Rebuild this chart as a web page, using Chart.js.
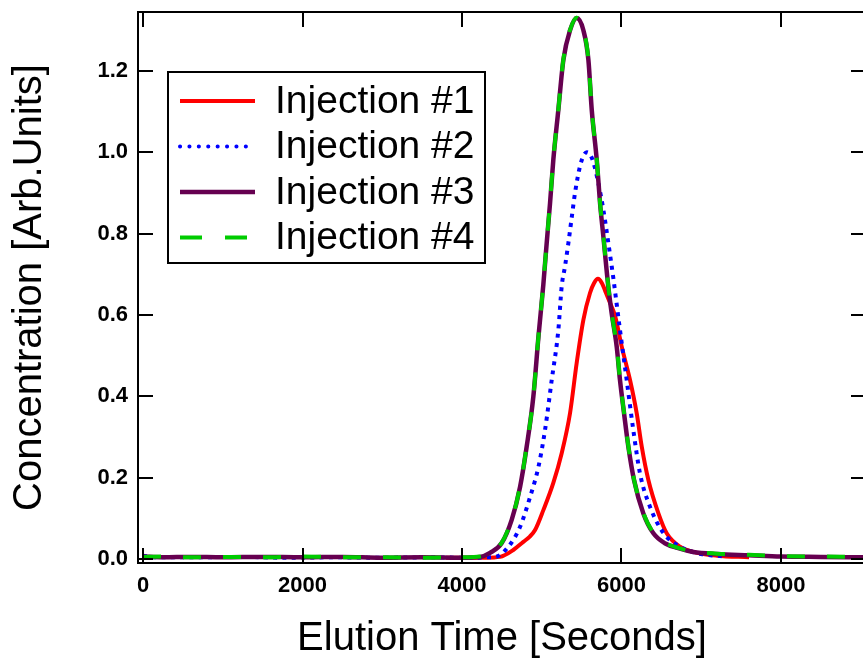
<!DOCTYPE html>
<html>
<head>
<meta charset="utf-8">
<script src="https://cdn.jsdelivr.net/npm/chart.js@4.4.1/dist/chart.umd.min.js"></script>
<style>
  html, body { margin: 0; padding: 0; background: #fff; overflow: hidden; }
  #wrap { width: 866px; height: 661px; }
</style>
</head>
<body>
<div id="wrap"><canvas id="chart"></canvas></div>
<script>
// values (time in seconds, concentration in arb. units)
const time1 = [3800, 4000, 4300, 4477, 4643, 4769, 4850, 4916, 5020, 5145, 5250, 5355, 5438, 5522, 5605, 5655, 5705, 5755, 5810, 5860, 5919, 6003, 6107, 6191, 6254, 6337, 6463, 6567, 6734, 6950, 7200, 7600];
const conc1 = [0.003, 0.003, 0.003, 0.005, 0.022, 0.042, 0.055, 0.071, 0.12, 0.187, 0.26, 0.359, 0.482, 0.588, 0.654, 0.678, 0.689, 0.678, 0.652, 0.628, 0.598, 0.522, 0.44, 0.358, 0.276, 0.194, 0.112, 0.063, 0.03, 0.015, 0.008, 0.004];

const time2 = [0, 150, 600, 1200, 1800, 2400, 3000, 3600, 4000, 4414, 4581, 4728, 4853, 4958, 5041, 5125, 5208, 5250, 5292, 5334, 5376, 5417, 5480, 5525, 5564, 5605, 5648, 5710, 5773, 5835, 5898, 5981, 6065, 6148, 6232, 6358, 6525, 6734, 6897, 7000, 7300];
const conc2 = [0.008, 0.004, 0.004, 0.005, 0.003, 0.004, 0.003, 0.004, 0.003, 0.005, 0.03, 0.079, 0.152, 0.226, 0.317, 0.44, 0.563, 0.67, 0.72, 0.777, 0.84, 0.9, 0.966, 0.992, 1.0, 0.995, 0.975, 0.924, 0.858, 0.777, 0.69, 0.563, 0.44, 0.317, 0.21, 0.128, 0.064, 0.03, 0.017, 0.012, 0.006];

const time3 = [0, 250, 600, 1000, 1500, 2000, 2500, 3000, 3500, 4000, 4226, 4351, 4498, 4623, 4728, 4811, 4895, 4958, 5020, 5062, 5104, 5145, 5208, 5271, 5355, 5438, 5522, 5585, 5627, 5690, 5731, 5773, 5835, 5877, 5940, 5981, 6032, 6086, 6157, 6274, 6400, 6550, 6700, 6900, 7200, 7600, 8000, 8500, 9066];
const conc3 = [0.006, 0.004, 0.005, 0.004, 0.005, 0.004, 0.005, 0.003, 0.004, 0.003, 0.005, 0.015, 0.039, 0.096, 0.177, 0.276, 0.40, 0.545, 0.675, 0.777, 0.875, 0.981, 1.104, 1.227, 1.30, 1.33, 1.30, 1.227, 1.104, 0.981, 0.875, 0.792, 0.669, 0.604, 0.522, 0.44, 0.358, 0.276, 0.194, 0.112, 0.063, 0.038, 0.027, 0.017, 0.012, 0.009, 0.006, 0.005, 0.004];

const time4 = time3;
const conc4 = [0.005, 0.006, 0.004, 0.005, 0.004, 0.006, 0.004, 0.004, 0.003, 0.004, 0.006, 0.016, 0.04, 0.097, 0.178, 0.277, 0.40, 0.546, 0.676, 0.778, 0.876, 0.982, 1.105, 1.228, 1.301, 1.331, 1.301, 1.228, 1.105, 0.982, 0.876, 0.793, 0.67, 0.605, 0.523, 0.441, 0.359, 0.277, 0.195, 0.113, 0.064, 0.039, 0.028, 0.018, 0.013, 0.01, 0.007, 0.006, 0.005];

const seriesNames = ["Injection #1", "Injection #2", "Injection #3", "Injection #4"];
const xTicks = [0, 2000, 4000, 6000, 8000];
const yTicks = [0, 0.2, 0.4, 0.6, 0.8, 1.0, 1.2];

const fontFamily = "'Liberation Sans', Arial, sans-serif";

function toPoints(times, values) {
  return times.map((t, i) => ({ x: t, y: values[i] }));
}

// box with inward ticks on all four sides
const frameTicks = {
  id: "frameTicks",
  afterDatasetsDraw(chart) {
    const { ctx, chartArea: a, scales } = chart;
    ctx.save();
    ctx.strokeStyle = "#000";
    ctx.lineWidth = 2;
    ctx.strokeRect(a.left, a.top, a.right - a.left, a.bottom - a.top);
    ctx.beginPath();
    xTicks.forEach((v) => {
      const px = Math.round(scales.x.getPixelForValue(v));
      ctx.moveTo(px, a.bottom);
      ctx.lineTo(px, a.bottom - 15);
      ctx.moveTo(px, a.top);
      ctx.lineTo(px, a.top + 15);
    });
    yTicks.forEach((v) => {
      const py = Math.round(scales.y.getPixelForValue(v));
      ctx.moveTo(a.left, py);
      ctx.lineTo(a.left + 15, py);
      ctx.moveTo(a.right, py);
      ctx.lineTo(a.right - 15, py);
    });
    ctx.stroke();
    ctx.restore();
  }
};

// legend inside the plot, boxed
const boxedLegend = {
  id: "boxedLegend",
  afterDraw(chart) {
    const { ctx, chartArea: a } = chart;
    const left = a.left + 30, top = a.top + 60, w = 317, h = 191;
    ctx.save();
    ctx.fillStyle = "#fff";
    ctx.fillRect(left, top, w, h);
    ctx.strokeStyle = "#000";
    ctx.lineWidth = 2;
    ctx.strokeRect(left, top, w, h);
    chart.data.datasets.forEach((ds, i) => {
      const y = top + 29 + i * 45.5;
      ctx.beginPath();
      ctx.strokeStyle = ds.borderColor;
      ctx.lineWidth = ds.borderWidth;
      ctx.setLineDash(ds.legendDash || []);
      ctx.lineCap = ds.legendCap || "butt";
      ctx.moveTo(left + 12, y);
      ctx.lineTo(left + 87, y);
      ctx.stroke();
      ctx.setLineDash([]);
      ctx.fillStyle = "#000";
      ctx.font = "39px " + fontFamily;
      ctx.textBaseline = "middle";
      ctx.textAlign = "left";
      ctx.fillText(ds.label, left + 107, y + 1);
    });
    ctx.restore();
  }
};

new Chart(document.getElementById("chart"), {
  type: "line",
  data: {
    datasets: [
      {
        label: seriesNames[0],
        data: toPoints(time1, conc1),
        borderColor: "#ff0000",
        borderWidth: 4,
        order: 4
      },
      {
        label: seriesNames[1],
        data: toPoints(time2, conc2),
        borderColor: "#0000ff",
        borderWidth: 4,
        borderDash: [4, 5.3],
        legendDash: [0.1, 9.3],
        legendCap: "round",
        order: 3
      },
      {
        label: seriesNames[2],
        data: toPoints(time3, conc3),
        borderColor: "#660050",
        borderWidth: 4.5,
        order: 2
      },
      {
        label: seriesNames[3],
        data: toPoints(time4, conc4),
        borderColor: "#00cc00",
        borderWidth: 4,
        borderDash: [18, 22],
        legendDash: [22, 23],
        order: 1
      }
    ]
  },
  options: {
    responsive: true,
    maintainAspectRatio: false,
    animation: false,
    layout: { padding: { top: 12, right: 0, left: 0, bottom: 0 } },
    elements: {
      point: { radius: 0 },
      line: { cubicInterpolationMode: "monotone", fill: false }
    },
    plugins: {
      legend: { display: false },
      tooltip: { enabled: false }
    },
    scales: {
      x: {
        type: "linear",
        min: -63,
        max: 9066,
        grid: { display: false, drawTicks: false },
        border: { display: false },
        afterBuildTicks: (scale) => { scale.ticks = xTicks.map((v) => ({ value: v })); },
        afterFit: (scale) => {
          scale.height = 98;
          scale.paddingLeft = 0;
          scale.paddingRight = 0;
        },
        ticks: {
          color: "#000",
          padding: 10,
          maxRotation: 0,
          font: { family: fontFamily, size: 22, weight: "bold" },
          callback: (v) => String(v)
        },
        title: {
          display: true,
          text: "Elution Time [Seconds]",
          color: "#000",
          font: { family: fontFamily, size: 40, lineHeight: 1 },
          padding: { bottom: 2 }
        }
      },
      y: {
        min: -0.01,
        max: 1.345,
        grid: { display: false, drawTicks: false },
        border: { display: false },
        afterBuildTicks: (scale) => { scale.ticks = yTicks.map((v) => ({ value: v })); },
        afterFit: (scale) => {
          scale.width = 138;
          scale.paddingTop = 0;
          scale.paddingBottom = 0;
        },
        ticks: {
          color: "#000",
          padding: 10,
          font: { family: fontFamily, size: 22, weight: "bold" },
          callback: (v) => v.toFixed(1)
        },
        title: {
          display: true,
          text: "Concentration [Arb.Units]",
          color: "#000",
          font: { family: fontFamily, size: 40, lineHeight: 1 },
          padding: { top: 10 }
        }
      }
    }
  },
  plugins: [frameTicks, boxedLegend]
});
</script>
</body>
</html>
